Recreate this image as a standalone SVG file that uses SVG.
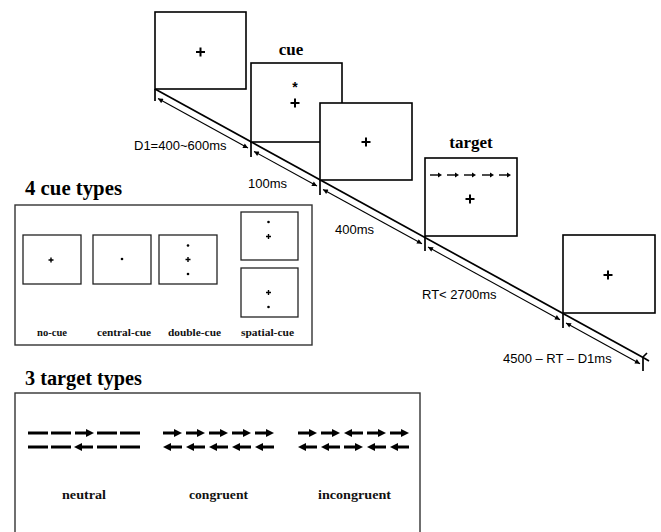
<svg xmlns="http://www.w3.org/2000/svg" xmlns:xlink="http://www.w3.org/1999/xlink" width="661" height="532" viewBox="0 0 661 532">
<style>
.scr{fill:#fff;stroke:#000;stroke-width:1.6}
.sm{fill:#fff;stroke:#222;stroke-width:1.3}
.box{fill:#fff;stroke:#333;stroke-width:1.4}
.fix{stroke:#000;stroke-width:2;fill:none}
.fixs{stroke:#000;stroke-width:1.4;fill:none}
.tl{stroke:#000;stroke-width:1.7;fill:none}
.dim{stroke:#000;stroke-width:1.1;fill:none;marker-start:url(#ah);marker-end:url(#ah)}
.sans{font-family:"Liberation Sans",Arial,sans-serif;font-size:13px;fill:#000}
.head{font-family:"Liberation Serif","Times New Roman",serif;font-weight:bold;fill:#000}
.lab{font-family:"Liberation Serif","Times New Roman",serif;font-weight:bold;fill:#111}
.fl{stroke:#000;stroke-width:3}
.ts{stroke:#000;stroke-width:1.4}
</style>
<defs>
<marker id="ah" viewBox="0 0 10 10" refX="10" refY="5" markerWidth="7" markerHeight="5" markerUnits="userSpaceOnUse" orient="auto-start-reverse">
<path d="M0,0 L10,5 L0,10 z" fill="#000"/>
</marker>
<g id="fr"><line class="fl" x1="0" y1="0" x2="13" y2="0"/><polygon points="11,-4 19,0 11,4" fill="#000"/></g>
<g id="fL"><line class="fl" x1="6" y1="0" x2="19" y2="0"/><polygon points="8,-4 0,0 8,4" fill="#000"/></g>
<g id="fd"><line class="fl" x1="0" y1="0" x2="20" y2="0"/></g>
<g id="tr"><line class="ts" x1="0" y1="0" x2="9" y2="0"/><polygon points="8,-2.5 12,0 8,2.5" fill="#000"/></g>
</defs>

<g id="connectors">
<line class="tl" x1="155" y1="89" x2="644" y2="358"/>
<line class="tl" x1="155" y1="89" x2="155" y2="101"/>
<line class="tl" x1="251" y1="142" x2="251" y2="157"/>
<line class="tl" x1="320" y1="180" x2="320" y2="195"/>
<line class="tl" x1="425" y1="236" x2="425" y2="251"/>
<line class="tl" x1="563" y1="313" x2="563" y2="328"/>
<line class="tl" x1="643" y1="357" x2="643" y2="371"/>
<path class="tl" d="M643,357 L647,353 M644,358 L649,361" stroke-width="1.1"/>
<line class="dim" x1="158" y1="98.6" x2="248" y2="148.1"/>
<line class="dim" x1="254" y1="151.4" x2="317" y2="186.1"/>
<line class="dim" x1="323" y1="189.4" x2="422" y2="243.8"/>
<line class="dim" x1="428" y1="247.1" x2="560" y2="319.7"/>
<line class="dim" x1="566" y1="323" x2="640" y2="363.7"/>
</g>

<g id="screen1">
<rect class="scr" x="155" y="12" width="91" height="77"/>
<path class="fix" d="M196,52 h9 M200.5,47.5 v9"/>
</g>
<g id="screen-cue">
<rect class="scr" x="251" y="63" width="91" height="79"/>
<text x="295" y="92" text-anchor="middle" font-family="Liberation Sans,Arial,sans-serif" font-size="14" font-weight="bold">*</text>
<path class="fix" d="M290.5,103 h9 M295,98.5 v9"/>
<text class="head" x="291" y="55" font-size="17" text-anchor="middle">cue</text>
</g>
<g id="screen3">
<rect class="scr" x="320" y="103" width="92" height="77"/>
<path class="fix" d="M361.5,142 h9 M366,137.5 v9"/>
</g>
<g id="screen-target">
<rect class="scr" x="425" y="158" width="92" height="78"/>
<use xlink:href="#tr" x="430" y="175"/>
<use xlink:href="#tr" x="447" y="175"/>
<use xlink:href="#tr" x="464" y="175"/>
<use xlink:href="#tr" x="482" y="175"/>
<use xlink:href="#tr" x="499" y="175"/>
<path class="fix" d="M465.5,199 h9 M470,194.5 v9"/>
<text class="head" x="471" y="148" font-size="17" text-anchor="middle">target</text>
</g>
<g id="screen5">
<rect class="scr" x="563" y="235" width="92" height="78"/>
<path class="fix" d="M603.5,275 h9 M608,270.5 v9"/>
</g>

<g id="labels-time">
<text class="sans" x="134" y="150">D1=400~600ms</text>
<text class="sans" x="248" y="188">100ms</text>
<text class="sans" x="335" y="234">400ms</text>
<text class="sans" x="422" y="299">RT&lt; 2700ms</text>
<text class="sans" x="503" y="363">4500 – RT – D1ms</text>
</g>

<g id="cue-types">
<text class="head" x="25" y="195" font-size="20" textLength="97" lengthAdjust="spacingAndGlyphs">4 cue types</text>
<rect class="box" x="15" y="205" width="297" height="140"/>
<rect class="sm" x="23" y="235" width="58" height="49"/>
<path class="fixs" d="M48.5,260 h5 M51,257.5 v5"/>
<rect class="sm" x="93" y="235" width="58" height="49"/>
<circle cx="122" cy="259" r="1.3"/>
<rect class="sm" x="159" y="235" width="58" height="49"/>
<circle cx="188" cy="245.5" r="1.3"/>
<path class="fixs" d="M185.5,259.5 h5 M188,257 v5"/>
<circle cx="188" cy="274" r="1.3"/>
<rect class="sm" x="241" y="212" width="57" height="48"/>
<circle cx="268.5" cy="222" r="1.3"/>
<path class="fixs" d="M266,236.5 h5 M268.5,234 v5"/>
<rect class="sm" x="241" y="268" width="57" height="49"/>
<path class="fixs" d="M266,292.5 h5 M268.5,290 v5"/>
<circle cx="268.5" cy="307" r="1.3"/>
<text class="lab" x="37" y="336" font-size="10" textLength="30" lengthAdjust="spacingAndGlyphs">no-cue</text>
<text class="lab" x="97" y="336" font-size="10" textLength="54" lengthAdjust="spacingAndGlyphs">central-cue</text>
<text class="lab" x="168" y="336" font-size="10" textLength="53" lengthAdjust="spacingAndGlyphs">double-cue</text>
<text class="lab" x="241" y="336" font-size="10" textLength="53" lengthAdjust="spacingAndGlyphs">spatial-cue</text>
</g>

<g id="target-types">
<text class="head" x="25" y="385" font-size="20" textLength="117" lengthAdjust="spacingAndGlyphs">3 target types</text>
<rect class="box" x="15" y="393" width="405" height="150"/>
<use xlink:href="#fd" x="28" y="433"/>
<use xlink:href="#fd" x="51" y="433"/>
<use xlink:href="#fr" x="75" y="433"/>
<use xlink:href="#fd" x="97" y="433"/>
<use xlink:href="#fd" x="120" y="433"/>
<use xlink:href="#fd" x="28" y="447"/>
<use xlink:href="#fd" x="51" y="447"/>
<use xlink:href="#fL" x="74" y="447"/>
<use xlink:href="#fd" x="97" y="447"/>
<use xlink:href="#fd" x="120" y="447"/>

<use xlink:href="#fr" x="163" y="433"/>
<use xlink:href="#fr" x="186" y="433"/>
<use xlink:href="#fr" x="209" y="433"/>
<use xlink:href="#fr" x="232" y="433"/>
<use xlink:href="#fr" x="255" y="433"/>
<use xlink:href="#fL" x="163" y="447"/>
<use xlink:href="#fL" x="186" y="447"/>
<use xlink:href="#fL" x="209" y="447"/>
<use xlink:href="#fL" x="232" y="447"/>
<use xlink:href="#fL" x="255" y="447"/>

<use xlink:href="#fr" x="298" y="433"/>
<use xlink:href="#fr" x="321" y="433"/>
<use xlink:href="#fL" x="344" y="433"/>
<use xlink:href="#fr" x="367" y="433"/>
<use xlink:href="#fr" x="390" y="433"/>
<use xlink:href="#fL" x="298" y="447"/>
<use xlink:href="#fL" x="321" y="447"/>
<use xlink:href="#fr" x="344" y="447"/>
<use xlink:href="#fL" x="367" y="447"/>
<use xlink:href="#fL" x="390" y="447"/>

<text class="lab" x="62" y="499" font-size="13" textLength="44" lengthAdjust="spacingAndGlyphs">neutral</text>
<text class="lab" x="189" y="499" font-size="13" textLength="59" lengthAdjust="spacingAndGlyphs">congruent</text>
<text class="lab" x="318" y="499" font-size="13" textLength="73" lengthAdjust="spacingAndGlyphs">incongruent</text>
</g>
</svg>
